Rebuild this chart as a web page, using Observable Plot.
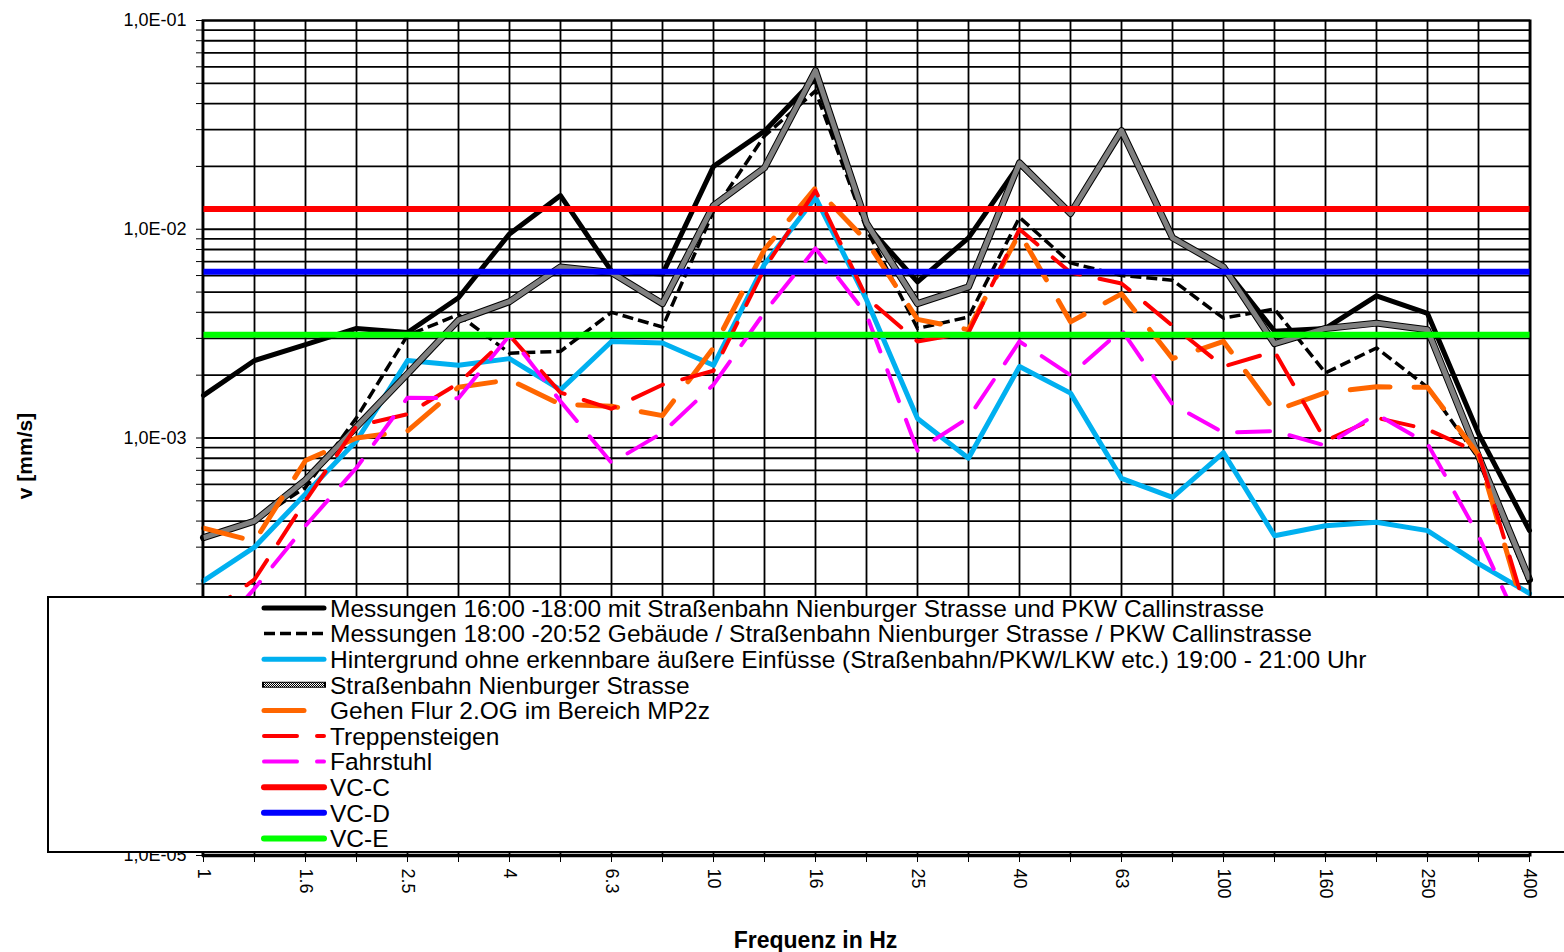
<!DOCTYPE html>
<html>
<head>
<meta charset="utf-8">
<script src="https://cdn.jsdelivr.net/npm/d3@7"></script>
<script src="https://cdn.jsdelivr.net/npm/@observablehq/plot@0.6"></script>
<style>
  body { margin: 0; background: #fff; }
  #chart { position: relative; width: 1564px; height: 952px; }
  svg { font-family: "Liberation Sans", Arial, sans-serif; }
</style>
</head>
<body>
<div id="chart"></div>
<script>
// Frequency bands (Hz)
const freqs = ["1","1.25","1.6","2","2.5","3.15","4","5","6.3","8","10","12.5","16","20","25","31.5","40","50","63","80","100","125","160","200","250","315","400"];
const freqLabels = ["1","1.6","2.5","4","6.3","10","16","25","40","63","100","160","250","400"];

// Series values v [mm/s]
const mess1 = [1.6e-3,2.35e-3,2.8e-3,3.35e-3,3.2e-3,4.7e-3,9.5e-3,1.45e-2,6.3e-3,6.1e-3,2.0e-2,2.95e-2,5.3e-2,1.05e-2,5.6e-3,9.1e-3,2.05e-2,1.19e-2,2.97e-2,9.1e-3,6.6e-3,3.25e-3,3.35e-3,4.8e-3,3.95e-3,1.05e-3,3.6e-4];
const mess2 = [3.3e-4,4.0e-4,5.8e-4,1.25e-3,3.1e-3,3.9e-3,2.55e-3,2.6e-3,4.0e-3,3.4e-3,1.22e-2,2.8e-2,4.6e-2,1.0e-2,3.35e-3,3.8e-3,1.14e-2,6.9e-3,6.0e-3,5.7e-3,3.75e-3,4.15e-3,2.05e-3,2.7e-3,1.75e-3,8.0e-4,2.0e-4];
const hintergrund = [2.07e-4,3.0e-4,5.4e-4,9.7e-4,2.35e-3,2.23e-3,2.4e-3,1.7e-3,2.9e-3,2.85e-3,2.23e-3,6.8e-3,1.42e-2,4.6e-3,1.24e-3,8.0e-4,2.2e-3,1.64e-3,6.4e-4,5.2e-4,8.5e-4,3.4e-4,3.8e-4,3.95e-4,3.6e-4,2.5e-4,1.8e-4];
const strassenbahn = [3.33e-4,4.0e-4,6.3e-4,1.13e-3,2.03e-3,3.67e-3,4.5e-3,6.6e-3,6.2e-3,4.4e-3,1.3e-2,1.97e-2,5.75e-2,1.07e-2,4.4e-3,5.3e-3,2.08e-2,1.19e-2,2.97e-2,9.1e-3,6.6e-3,2.83e-3,3.35e-3,3.55e-3,3.3e-3,8.2e-4,2.1e-4];
const gehen = [3.7e-4,3.2e-4,7.8e-4,1.0e-3,1.08e-3,1.75e-3,1.9e-3,1.45e-3,1.42e-3,1.28e-3,2.7e-3,8.0e-3,1.58e-2,8.8e-3,3.7e-3,3.3e-3,9.6e-3,3.6e-3,4.9e-3,2.4e-3,2.9e-3,1.35e-3,1.65e-3,1.76e-3,1.75e-3,8.3e-4,1.2e-4];
const treppen = [1.4e-4,2.1e-4,5.0e-4,1.14e-3,1.3e-3,1.83e-3,3.1e-3,1.65e-3,1.38e-3,1.8e-3,2.1e-3,6.5e-3,1.53e-2,4.7e-3,2.9e-3,3.2e-3,1.0e-2,6.2e-3,5.5e-3,3.45e-3,2.2e-3,2.6e-3,9.7e-4,1.25e-3,1.1e-3,8.5e-4,1.3e-4];
const fahrstuhl = [1.0e-4,1.9e-4,3.8e-4,7.2e-4,1.56e-3,1.55e-3,3.1e-3,1.5e-3,7.6e-4,1.06e-3,1.8e-3,4.0e-3,8.1e-3,3.9e-3,8.7e-4,1.25e-3,2.9e-3,2.0e-3,3.3e-3,1.45e-3,1.06e-3,1.08e-3,9.2e-4,1.3e-3,9.4e-4,3.4e-4,1.0e-4];

// Vibration criteria (mm/s)
const vcNames = ["VC-C","VC-D","VC-E"];
const vcValues = [1.25e-2, 6.25e-3, 3.12e-3];

const legendNames = [
  "Messungen 16:00 -18:00 mit Straßenbahn Nienburger Strasse und PKW Callinstrasse",
  "Messungen 18:00 -20:52 Gebäude / Straßenbahn Nienburger Strasse / PKW Callinstrasse",
  "Hintergrund ohne erkennbare äußere Einfüsse (Straßenbahn/PKW/LKW etc.) 19:00 - 21:00 Uhr",
  "Straßenbahn Nienburger Strasse",
  "Gehen Flur 2.OG im Bereich MP2z",
  "Treppensteigen",
  "Fahrstuhl",
  "VC-C","VC-D","VC-E"
];

const yMajor = [1e-5,1e-4,1e-3,1e-2,1e-1];
const yMinor = [];
for (let e = -5; e < -1; e++) for (let m = 1; m <= 9; m++) yMinor.push(m * Math.pow(10, e));
yMinor.push(1e-1);

const toRows = (vals) => vals.map((v, i) => ({f: freqs[i], v}));

const styles = [
  {data: mess1, stroke: "#000", strokeWidth: 5, dash: null, cap: "round"},
  {data: mess2, stroke: "#000", strokeWidth: 3.5, dash: "11,5", cap: "butt"},
  {data: hintergrund, stroke: "#00B0F0", strokeWidth: 5, dash: null, cap: "round"},
  {data: strassenbahn, stroke: "url(#hatch)", strokeWidth: 5, dash: null, cap: "butt", hatch: true},
  {data: gehen, stroke: "#FF6600", strokeWidth: 5, dash: "40,24", cap: "round"},
  {data: treppen, stroke: "#FF0000", strokeWidth: 4, dash: "33,20", cap: "round"},
  {data: fahrstuhl, stroke: "#FF00FF", strokeWidth: 4, dash: "33,20", cap: "round"}
];
const vcColors = ["#FF0000", "#0000FF", "#00FF00"];

const majorLabel = d => yMajor.some(m => Math.abs(m - d) / m < 1e-6) ? "1,0E-" + String(Math.round(-Math.log10(d))).padStart(2, "0") : "";

const marks = [
  Plot.ruleX(freqs, {stroke: "#000", strokeWidth: 1.8}),
  Plot.ruleY(yMinor, {stroke: "#000", strokeWidth: 1.8}),
  Plot.axisY({ticks: yMinor, tickSize: 6, tickPadding: 10, fontSize: 18, tickFormat: majorLabel, label: null}),
  Plot.axisX({ticks: freqs, tickSize: 7, tickPadding: 6, tickRotate: 90, fontSize: 18,
    tickFormat: d => freqLabels.includes(d) ? d : "", label: null})
];
for (const s of styles) {
  if (s.hatch) {
    marks.push(Plot.line(toRows(s.data), {x: "f", y: "v", stroke: "#000", strokeWidth: 7, strokeLinejoin: "round"}));
  }
  marks.push(Plot.line(toRows(s.data), {x: "f", y: "v", stroke: s.stroke, strokeWidth: s.strokeWidth,
    strokeDasharray: s.dash || undefined, strokeLinecap: s.cap, strokeLinejoin: "round"}));
}
vcValues.forEach((v, i) => {
  marks.push(Plot.ruleY([v], {stroke: vcColors[i], strokeWidth: 6}));
});
marks.push(Plot.frame({stroke: "#000", strokeWidth: 2}));
marks.push(Plot.ruleY([1e-5], {stroke: "#000", strokeWidth: 3.5}));
marks.push(Plot.text(["v [mm/s]"], {frameAnchor: "left", textAnchor: "middle", dx: -177, dy: 18, rotate: -90, fontSize: 21, fontWeight: "bold", fill: "#000"}));
marks.push(Plot.text(["Frequenz in Hz"], {frameAnchor: "bottom", dx: -51, dy: 92, fontSize: 23, fontWeight: "bold", fill: "#000"}));

const chart = Plot.plot({
  width: 1564,
  height: 952,
  marginLeft: 202,
  marginRight: 34,
  marginTop: 20,
  marginBottom: 97,
  style: {fontFamily: "'Liberation Sans', Arial, sans-serif", fontSize: "18px", color: "#000", background: "#fff"},
  x: {type: "point", domain: freqs, padding: 0},
  y: {type: "log", domain: [1e-5, 1e-1]},
  marks
});

// hatch pattern for the tram series
const svg = d3.select(chart.tagName.toLowerCase() === "svg" ? chart : chart.querySelector("svg"));
const defs = svg.insert("defs", ":first-child");
const pat = defs.append("pattern").attr("id", "hatch").attr("patternUnits", "userSpaceOnUse")
  .attr("width", 2).attr("height", 2);
pat.append("rect").attr("width", 2).attr("height", 2).attr("fill", "#fff");
pat.append("rect").attr("width", 1).attr("height", 1).attr("fill", "#000");
pat.append("rect").attr("x", 1).attr("y", 1).attr("width", 1).attr("height", 1).attr("fill", "#000");

// legend box overlaying the plot
const lg = svg.append("g").attr("class", "legend").attr("text-anchor", "start");
lg.append("rect").attr("x", 48).attr("y", 597).attr("width", 1530).attr("height", 255)
  .attr("fill", "#fff").attr("stroke", "#000").attr("stroke-width", 2);
const legendStyles = styles.map(s => ({stroke: s.stroke, w: s.hatch ? 5 : s.strokeWidth, dash: s.dash, cap: s.cap, hatch: s.hatch}))
  .concat(vcColors.map(c => ({stroke: c, w: 6, dash: null, cap: "round"})));
legendNames.forEach((name, i) => {
  const cy = 608 + i * 25.6;
  const st = legendStyles[i];
  if (st.hatch) {
    lg.append("line").attr("x1", 262).attr("x2", 326).attr("y1", cy).attr("y2", cy)
      .attr("stroke", "#000").attr("stroke-width", 6);
  }
  lg.append("line").attr("x1", 264).attr("x2", 324).attr("y1", cy).attr("y2", cy)
    .attr("stroke", st.stroke).attr("stroke-width", st.hatch ? 4 : st.w)
    .attr("stroke-dasharray", st.dash).attr("stroke-linecap", st.cap);
  lg.append("text").attr("x", 330).attr("y", cy).attr("dy", "0.36em")
    .attr("text-anchor", "start")
    .attr("font-size", 24.5).attr("fill", "#000").text(name);
});

document.getElementById("chart").appendChild(chart);
</script>
</body>
</html>
